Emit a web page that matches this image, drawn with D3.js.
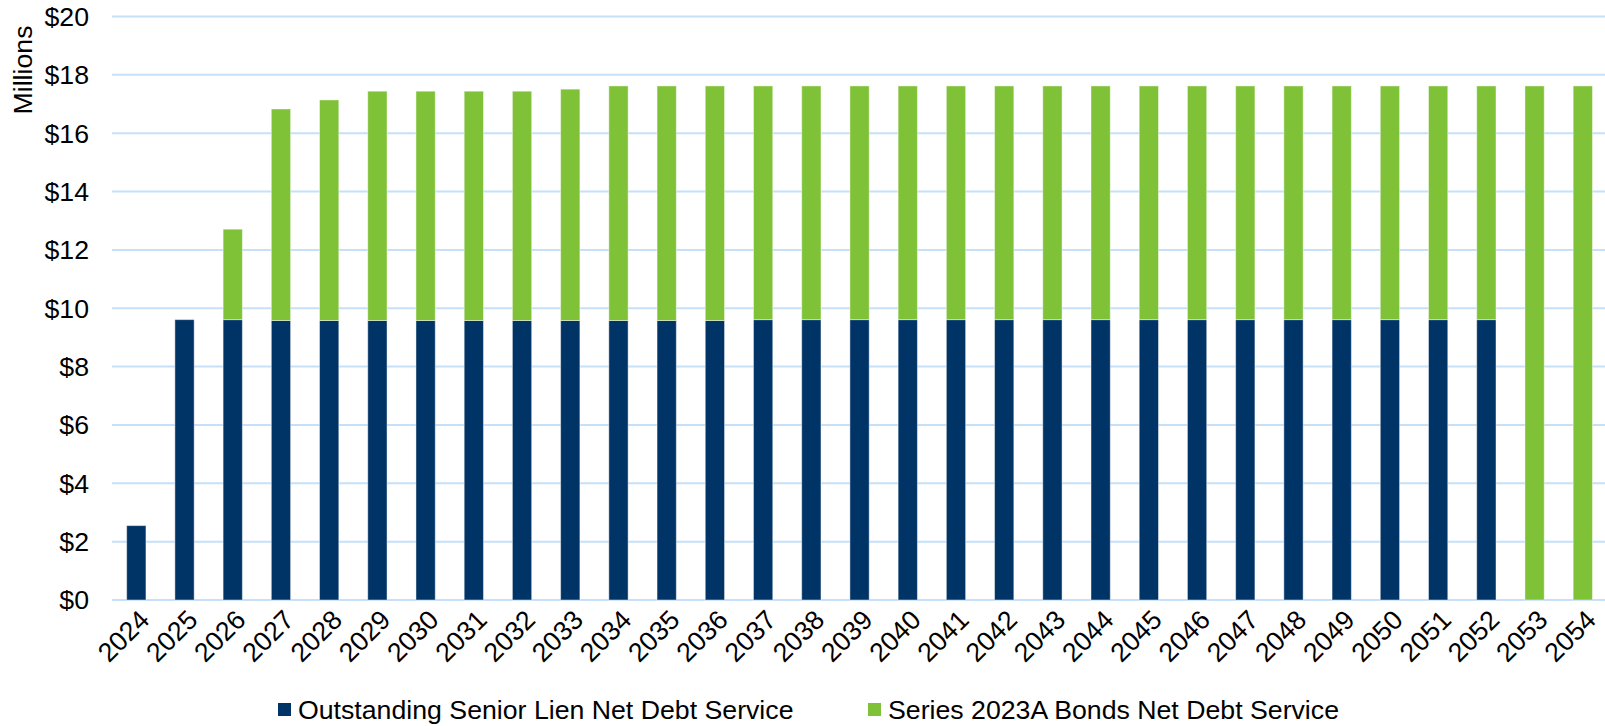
<!DOCTYPE html>
<html>
<head>
<meta charset="utf-8">
<script src="https://cdn.jsdelivr.net/npm/d3@7"></script>
<style>
  html, body { margin: 0; padding: 0; background: #fff; }
  svg { display: block; }
  text { font-family: "Liberation Sans", Arial, sans-serif; fill: #000; }
</style>
</head>
<body>
<svg id="chart" width="1605" height="726"></svg>
<script>
const years = ["2024","2025","2026","2027","2028","2029","2030","2031","2032","2033","2034","2035","2036","2037","2038","2039","2040","2041","2042","2043","2044","2045","2046","2047","2048","2049","2050","2051","2052","2053","2054"];
const seniorLien = [2.55,9.61,9.61,9.58,9.58,9.58,9.58,9.58,9.58,9.58,9.58,9.58,9.58,9.61,9.61,9.61,9.61,9.61,9.61,9.61,9.61,9.61,9.61,9.61,9.61,9.61,9.61,9.61,9.61,0,0];
const series2023A = [0,0,3.10,7.25,7.56,7.86,7.86,7.86,7.86,7.93,8.04,8.04,8.04,8.01,8.01,8.01,8.01,8.01,8.01,8.01,8.01,8.01,8.01,8.01,8.01,8.01,8.01,8.01,8.01,17.62,17.62];
const yTicks = [0,2,4,6,8,10,12,14,16,18,20];
const seriesNames = ["Outstanding Senior Lien Net Debt Service","Series 2023A Bonds Net Debt Service"];
const seriesColors = ["#003466","#7FC137"];

const FS = 26.7;
const svg = d3.select("#chart");
const x = d3.scaleBand().domain(years).range([112.2, 1606.9]).paddingInner(0.6).paddingOuter(0.3);
const y = d3.scaleLinear().domain([0, 20]).range([600, 16.5]);

// gridlines
svg.append("g").selectAll("line").data(yTicks).join("line")
  .attr("x1", 112).attr("x2", 1605)
  .attr("y1", d => y(d)).attr("y2", d => y(d))
  .attr("stroke", "#C6E0FA").attr("stroke-width", 2);

// y tick labels
svg.append("g").selectAll("text").data(yTicks).join("text")
  .attr("x", 89).attr("y", d => y(d)).attr("dy", "0.35em")
  .attr("text-anchor", "end").attr("font-size", FS)
  .text(d => "$" + d);

// y title
svg.append("text")
  .attr("transform", "translate(32,70) rotate(-90)")
  .attr("text-anchor", "middle").attr("font-size", FS)
  .text("Millions");

// stacked bars
const rows = years.map((yr, i) => ({year: yr, a: seniorLien[i], b: series2023A[i]}));
const stack = d3.stack().keys(["a","b"])(rows);
svg.append("g").selectAll("g").data(stack).join("g")
  .attr("fill", (d, i) => seriesColors[i])
  .selectAll("rect").data(d => d.filter(s => s[1] - s[0] > 0)).join("rect")
  .attr("x", d => x(d.data.year))
  .attr("width", x.bandwidth())
  .attr("y", d => y(d[1]))
  .attr("height", d => y(d[0]) - y(d[1]))
  .attr("stroke", "rgba(255,255,255,0.45)").attr("stroke-width", 1);

// x labels
svg.append("g").selectAll("text").data(years).join("text")
  .attr("transform", d => `translate(${x(d) + x.bandwidth()/2 + 8},${615}) rotate(-45)`)
  .attr("text-anchor", "end").attr("font-size", FS)
  .attr("dy", "0.35em")
  .text(d => d);

// legend
const legendX = [278, 868];
const lg = svg.append("g").selectAll("g").data(seriesNames).join("g")
  .attr("transform", (d, i) => `translate(${legendX[i]},0)`);
lg.append("rect").attr("x", 0).attr("y", 703).attr("width", 13).attr("height", 13)
  .attr("fill", (d, i) => seriesColors[i]);
lg.append("text").attr("x", 20).attr("y", 719).attr("font-size", FS).text(d => d);
</script>
</body>
</html>
